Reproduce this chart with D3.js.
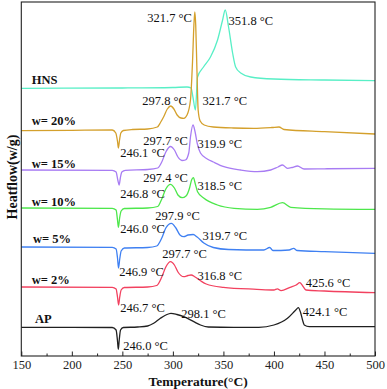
<!DOCTYPE html>
<html>
<head>
<meta charset="utf-8">
<script src="https://cdn.jsdelivr.net/npm/d3@7"></script>
<style>
  html, body { margin: 0; padding: 0; background: #fff; }
  text { font-family: "Liberation Serif", "Times New Roman", serif; }
</style>
</head>
<body>
<div id="myPlot"></div>
<script>
// Set Dimensions
const xSize = 387;
const ySize = 389;
const margin = {top: 2, right: 12, bottom: 33, left: 21.3};
const xMax = xSize - margin.left - margin.right;
const yMax = ySize - margin.top - margin.bottom;

// Data: [temperature (°C), heat flow (a.u., stacked)]
let hns = [
  [150, 26.77], [250, 26.80], [300, 26.85], [314, 26.90], [318, 26.80], [320, 25.80],
  [322.3, 24.60], [324.4, 27.90], [330.3, 28.90], [337.2, 29.90], [344.2, 31.60],
  [349.2, 33.60], [351.8, 34.60], [355.1, 32.90], [359.1, 30.30], [362.1, 28.90],
  [367.1, 28.30], [377, 27.90], [400, 27.70], [450, 27.60], [500, 27.53]
];

let w20 = [
  [150, 22.53], [200, 22.57], [240, 22.60], [243.5, 22.30], [245.3, 21.40], [246.1, 20.80],
  [247.2, 21.60], [248.5, 22.30], [251, 22.55], [260, 22.65], [275, 22.70], [284.6, 22.90],
  [288, 23.40], [290.9, 23.93], [294.5, 24.70], [297.8, 25.00], [301, 24.70], [304.2, 24.10],
  [308, 23.80], [310.8, 23.77], [314, 24.10], [317.4, 25.60], [319.5, 29.60], [320.8, 33.10],
  [321.7, 34.40], [322.6, 33.10], [323.8, 28.60], [325, 24.60], [327, 23.50], [331, 23.10],
  [340, 22.90], [360, 22.80], [380, 22.77], [398, 22.85], [405, 22.90], [410, 22.65],
  [450, 22.43], [500, 22.20]
];

let w15 = [
  [150, 18.60], [240, 18.57], [243.8, 18.40], [245.5, 17.60], [246.8, 17.10], [248, 17.80],
  [249.5, 18.40], [253, 18.57], [275, 18.65], [285, 18.80], [289, 19.40], [293, 20.40],
  [297.7, 20.95], [301.5, 20.60], [305, 19.90], [309, 19.55], [312.4, 19.60], [315.7, 20.30],
  [317.4, 21.90], [319.9, 23.10], [322, 22.40], [324, 21.30], [327.3, 20.30], [334, 19.70],
  [340, 19.40], [350.5, 18.93], [367, 18.60], [383.6, 18.43], [396.8, 18.60], [404, 18.90],
  [408.4, 19.10], [413.4, 18.77], [418, 18.85], [423.3, 19.00], [429.8, 18.70], [450, 18.72],
  [500, 18.77]
];

let w10 = [
  [150, 14.80], [240, 14.77], [243.8, 14.60], [245.2, 13.60], [246.1, 12.87], [247.3, 13.80],
  [248.8, 14.50], [252, 14.75], [275, 14.80], [285, 14.95], [289, 15.70], [293, 16.70],
  [297.6, 17.17], [301.5, 16.80], [305, 16.10], [309.2, 15.83], [313, 16.00], [316.5, 16.80],
  [318.5, 17.60], [320.3, 17.83], [322.2, 17.20], [324.4, 16.43], [330.8, 15.77], [344, 15.10],
  [360.6, 14.77], [383.6, 14.67], [396.8, 14.87], [408.4, 15.33], [416.7, 14.87], [450, 14.72],
  [500, 14.67]
];

let w5 = [
  [150, 10.90], [240, 10.87], [243.8, 10.70], [245.2, 9.80], [246.2, 8.80], [247.4, 9.70],
  [248.8, 10.50], [252, 10.80], [275, 10.85], [284, 11.00], [289, 11.80], [293, 12.80],
  [298.5, 13.27], [303, 12.80], [307, 12.10], [310.8, 11.93], [315, 12.10], [320.1, 12.15],
  [324, 11.90], [330.6, 11.30], [340, 10.85], [355, 10.65], [390, 10.60], [395.8, 10.85],
  [399, 10.55], [415, 10.60], [419.5, 10.77], [423, 10.55], [450, 10.43], [500, 10.27]
];

let w2 = [
  [150, 6.90], [240, 6.87], [243.8, 6.70], [245.2, 5.90], [246.3, 5.10], [247.4, 5.90],
  [248.8, 6.60], [252, 6.85], [275, 6.90], [284, 7.05], [289, 7.90], [293, 8.90],
  [297.7, 9.43], [301.5, 9.10], [305, 8.40], [310.8, 7.93], [315, 8.05], [318, 8.10],
  [322, 7.90], [327.3, 7.53], [333, 7.20], [350, 6.87], [383, 6.67], [400, 6.60],
  [403.4, 6.72], [407, 6.53], [416, 6.87], [422, 7.10], [425.6, 7.33], [428.5, 7.00],
  [431.7, 6.60], [450, 6.50], [500, 6.33]
];

let ap = [
  [150, 2.87], [200, 2.87], [240, 2.85], [243.8, 2.60], [245.1, 1.60], [246, 0.67],
  [246.9, 1.60], [248.2, 2.60], [251, 2.85], [265, 2.90], [275, 3.00], [281, 3.27],
  [287.6, 3.77], [293, 4.10], [298.1, 4.27], [304, 4.15], [310.8, 3.93], [320.7, 3.43],
  [327.3, 3.10], [335, 2.90], [360, 2.87], [385, 2.87], [400, 3.10], [413.4, 3.77],
  [421.6, 4.60], [424.1, 4.83], [426.5, 4.30], [428.3, 3.60], [430, 3.10], [435, 2.93],
  [500, 2.93]
];

const seriesNames = ["HNS", "w= 20%", "w= 15%", "w= 10%", "w= 5%", "w= 2%", "AP"];
const seriesData = [hns, w20, w15, w10, w5, w2, ap];
const seriesColors = ["#58EFC6", "#D4A02C", "#A87CF3", "#4DE74B", "#3F80F2", "#F2415F", "#202020"];
// where each series name sits: [temperature, heat flow]
const nameAnchors = [[160.4, 27.7], [160.4, 23.6], [160.4, 19.3], [160.4, 15.5], [161.6, 11.8], [160.4, 7.7], [163.6, 3.8]];

// peak / dip annotations: [text, temperature, heat flow]
let peakLabels = [
  ["321.7 °C", 274.7, 33.9], ["351.8 °C", 355.1, 33.6],
  ["297.8 °C", 269.8, 25.6], ["321.7 °C", 329.3, 25.6],
  ["297.7 °C", 270.7, 21.6], ["246.1 °C", 247.9, 20.4], ["319.9 °C", 324.3, 21.3],
  ["297.4 °C", 270.7, 17.9], ["246.8 °C", 247.9, 16.3], ["318.5 °C", 324.3, 17.1],
  ["297.9 °C", 282.6, 14.1], ["246.0 °C", 247.9, 12.8], ["319.7 °C", 329.3, 12.1],
  ["297.7 °C", 289.6, 10.3], ["246.9 °C", 246.9, 8.5], ["316.8 °C", 324.3, 8.1],
  ["425.6 °C", 431.4, 7.4], ["246.7 °C", 247.9, 4.9],
  ["298.1 °C", 308.4, 4.3], ["424.1 °C", 428.4, 4.5], ["246.0 °C", 250.9, 1.1]
];

const xTicks = [150, 200, 250, 300, 350, 400, 450, 500];
const xMinorTicks = [175, 225, 275, 325, 375, 425, 475];

// Append SVG Object to the Page
const svgRoot = d3.select("#myPlot")
  .append("svg")
  .attr("width", xSize)
  .attr("height", ySize);

const svg = svgRoot.append("g")
  .attr("transform", "translate(" + margin.left + "," + margin.top + ")");

// Scales
const x = d3.scaleLinear()
  .domain([150, 500])
  .range([0, xMax]);

const y = d3.scaleLinear()
  .domain([0, 35.4])
  .range([yMax, 0]);

// Curves
const line = d3.line()
  .x(d => x(d[0]))
  .y(d => y(d[1]))
  .curve(d3.curveMonotoneX);

svg.append("g")
  .selectAll(".curve")
  .data(seriesData)
  .enter()
  .append("path")
  .attr("class", "curve")
  .attr("d", d => line(d))
  .attr("fill", "none")
  .attr("stroke", (d, i) => seriesColors[i])
  .attr("stroke-width", 1.3)
  .attr("stroke-linejoin", "round");

// Series names
svg.append("g")
  .selectAll(".series-name")
  .data(seriesNames)
  .enter()
  .append("text")
  .attr("class", "series-name")
  .attr("x", (d, i) => x(nameAnchors[i][0]))
  .attr("y", (d, i) => y(nameAnchors[i][1]) + 4.5)
  .style("font-size", "12.5px")
  .style("font-weight", "bold")
  .style("fill", "#111")
  .text(d => d);

// Peak temperatures
svg.append("g")
  .selectAll(".peak-label")
  .data(peakLabels)
  .enter()
  .append("text")
  .attr("class", "peak-label")
  .attr("x", d => x(d[1]))
  .attr("y", d => y(d[2]) + 4.5)
  .style("font-size", "12.5px")
  .style("fill", "#111")
  .text(d => d[0]);

// X Axis (ticks point inward)
const xAxis = svg.append("g")
  .attr("class", "x-axis")
  .attr("transform", `translate(0, ${yMax})`)
  .call(d3.axisBottom(x).tickValues(xTicks).tickSize(-4.5).tickPadding(4.5));

xAxis.selectAll("text")
  .style("font-family", "'Liberation Serif', serif")
  .style("font-size", "12.5px")
  .style("fill", "#222");

svg.append("g")
  .attr("class", "x-minor")
  .attr("transform", `translate(0, ${yMax})`)
  .call(d3.axisBottom(x).tickValues(xMinorTicks).tickSize(-2.5).tickFormat(""));

svg.selectAll(".x-axis .domain, .x-minor .domain").remove();
svg.selectAll(".x-axis line, .x-minor line").attr("stroke", "#222").attr("stroke-width", 1);

// Frame
svg.append("rect")
  .attr("x", 0)
  .attr("y", 0)
  .attr("width", xMax)
  .attr("height", yMax)
  .attr("fill", "none")
  .attr("stroke", "#222")
  .attr("stroke-width", 1.1);

svg.append("text") // x-axis label
  .attr("x", xMax / 2)
  .attr("y", yMax + 30)
  .style("font-size", "13.5px")
  .style("font-weight", "bold")
  .style("text-anchor", "middle")
  .style("fill", "#111")
  .text("Temperature(°C)");

svg.append("text") // y-axis label
  .attr("transform", `translate(${-4.5}, ${yMax / 2 - 2}) rotate(-90)`)
  .style("font-size", "14px")
  .style("font-weight", "bold")
  .style("text-anchor", "middle")
  .style("fill", "#111")
  .text("Heatflow(w/g)");
</script>
</body>
</html>
